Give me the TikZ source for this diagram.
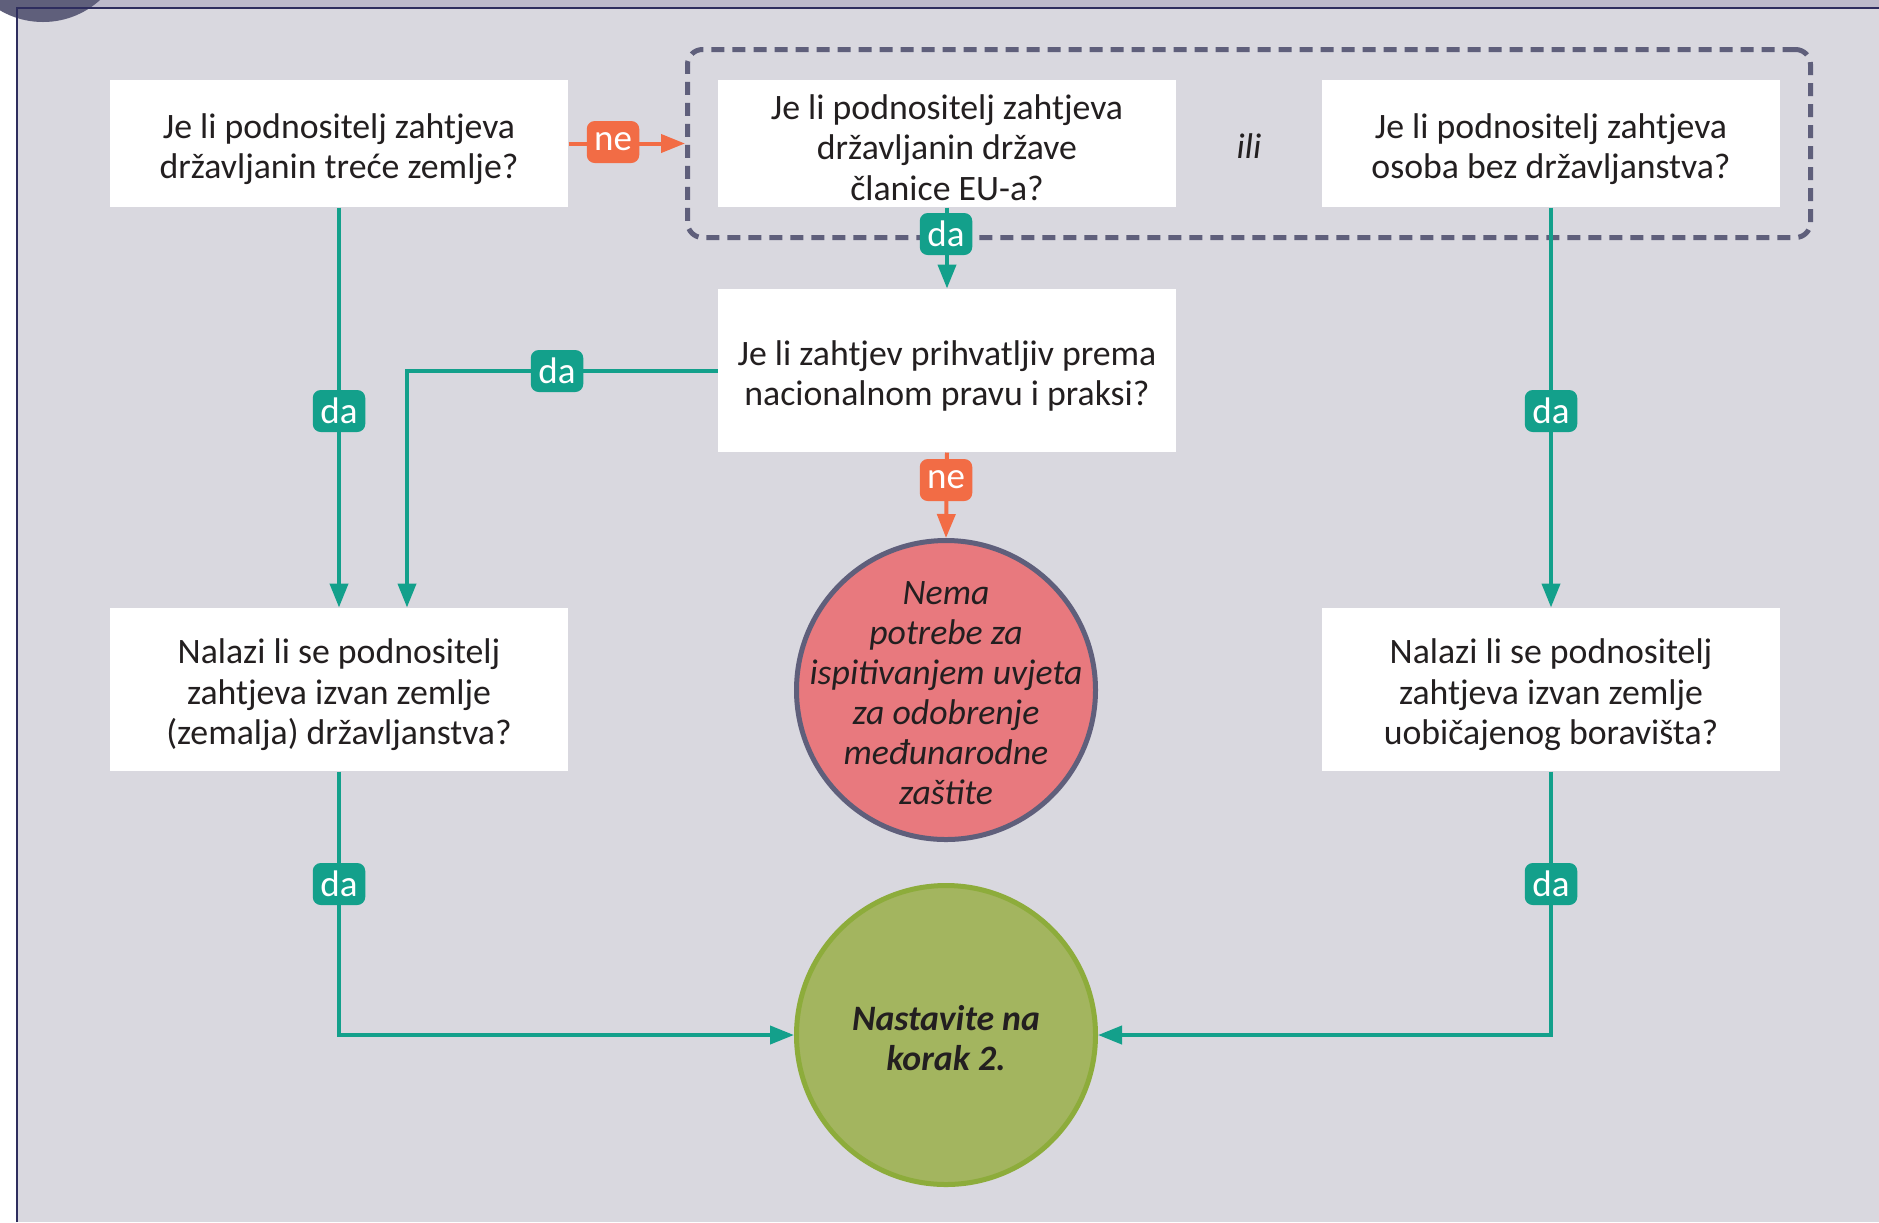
\documentclass[tikz,border=0pt]{standalone}
\usepackage{fontspec}
\setmainfont{Carlito}
\usetikzlibrary{arrows.meta,fit}
\definecolor{bgc}{HTML}{D9D8DF}
\definecolor{bandc}{HTML}{BDBACB}
\definecolor{navy}{HTML}{2E2D5E}
\definecolor{slate}{HTML}{5F5F7B}
\definecolor{tealc}{HTML}{13A08B}
\definecolor{orangec}{HTML}{F26C45}
\definecolor{redc}{HTML}{E8797E}
\definecolor{greenc}{HTML}{A3B55F}
\definecolor{greenb}{HTML}{8DAC3B}
\definecolor{txt}{HTML}{231F20}
\begin{document}
\begin{tikzpicture}[x=0.4pt,y=-0.4pt,
  bodyfont/.style={font=\fontsize{14.3}{16.2}\selectfont},
  qbox/.style={fill=white, minimum width=183.2pt, minimum height=50.8pt, inner sep=0pt},
  tallbox/.style={qbox, minimum height=65.2pt},
  qtext/.style={align=center, bodyfont, text=txt, inner sep=0pt},
  lblbase/.style={text=white, rounded corners=3.2pt, minimum width=21pt, minimum height=16.8pt,
    inner sep=0pt, font=\fontsize{14.8}{16}\selectfont},
  dalbl/.style={lblbase, fill=tealc},
  nelbl/.style={lblbase, fill=orangec},
  tconn/.style={draw=tealc, line width=1.6pt},
  oconn/.style={draw=orangec, line width=1.6pt},
  arr/.style={-{Triangle[length=9.6pt,width=7.2pt]}},
  endcirc/.style={circle, minimum size=119.6pt, inner sep=0pt, line width=2pt},
  circtext/.style={align=center, text=txt, inner sep=0pt}
]
\useasboundingbox (0,0) rectangle (1879,1222);
% background
\fill[bgc] (0,0) rectangle (1879,1222);
\fill[white] (0,8) rectangle (17,1222);
\fill[bandc] (0,0) rectangle (1879,8);
\fill[slate] (43,-63) circle[radius=34pt];
\draw[navy, line width=0.6pt] (17,1222) -- (17,8) -- (1879,8);

% boxes
\node[qbox] (A) at (339,143.5) {};
\node[qtext] (At) at ([yshift=-2.2pt]A.center) {Je li podnositelj zahtjeva\\državljanin treće zemlje?};
\node[qbox] (B) at (947,143.5) {};
\node[qtext] (Bt) at ([yshift=-1.6pt]B.center) {Je li podnositelj zahtjeva\\državljanin države\\članice EU-a?};
\node[qbox] (C) at (1551,143.5) {};
\node[qtext] (Ct) at ([yshift=-2.2pt]C.center) {Je li podnositelj zahtjeva\\osoba bez državljanstva?};
\node[font=\fontsize{14.3}{16.2}\selectfont\itshape, text=txt] (ili) at (1249,146) {ili};
\node[draw=slate, line width=2pt, dash pattern=on 5.2pt off 3.2pt, rounded corners=6pt,
  inner sep=12pt, fit=(B)(C)] (grp) {};
\node[tallbox] (D) at (947,370.5) {};
\node[qtext] (Dt) at ([yshift=-2.2pt]D.center) {Je li zahtjev prihvatljiv prema\\nacionalnom pravu i praksi?};
\node[tallbox] (E) at (339,689.5) {};
\node[qtext] (Et) at ([yshift=-2.2pt]E.center) {Nalazi li se podnositelj\\zahtjeva izvan zemlje\\(zemalja) državljanstva?};
\node[tallbox] (F) at (1551,689.5) {};
\node[qtext] (Ft) at ([yshift=-2.2pt]F.center) {Nalazi li se podnositelj\\zahtjeva izvan zemlje\\uobičajenog boravišta?};
\node[endcirc, draw=slate, fill=redc] (R) at (946,690) {};
\node[circtext, font=\fontsize{14.3}{16}\selectfont\itshape] (Rt) at (946,693)
  {Nema\\potrebe za\\ispitivanjem uvjeta\\za odobrenje\\međunarodne\\zaštite};
\node[endcirc, draw=greenb, fill=greenc] (G) at (946,1035) {};
\node[circtext, font=\fontsize{14.3}{16.2}\selectfont\bfseries\itshape] (Gt) at (946,1038)
  {Nastavite na\\korak 2.};
\coordinate (dx) at (407,0);

% connectors
\draw[oconn, arr] (A.east) -- (grp.west);
\draw[tconn, arr] (B.south) -- (D.north);
\draw[tconn, arr] (A.south) -- (E.north);
\draw[tconn, arr] (D.west) -| (dx |- E.north);
\draw[oconn, arr] (D.south) -- (R.north);
\draw[tconn, arr] (C.south) -- (F.north);
\draw[tconn, arr] (E.south) |- (G.west);
\draw[tconn, arr] (F.south) |- (G.east);

% labels
\node[nelbl] (ne1) at (613,142) {ne};
\node[dalbl] (da3) at (946,234) {da};
\node[dalbl] (da1) at (339,411) {da};
\node[dalbl] (da2) at (557,371) {da};
\node[nelbl] (ne2) at (946,480) {ne};
\node[dalbl] (da4) at (1551,411) {da};
\node[dalbl] (da5) at (339,884) {da};
\node[dalbl] (da6) at (1551,884) {da};
\end{tikzpicture}
\end{document}
